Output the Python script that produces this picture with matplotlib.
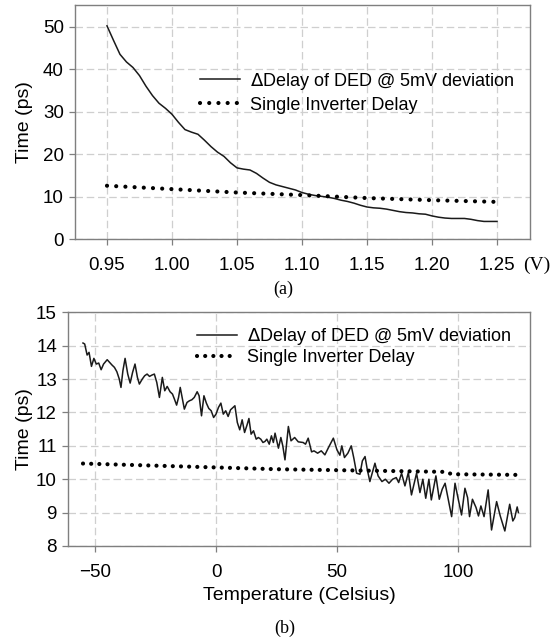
import numpy as np
import matplotlib
matplotlib.use("Agg")
import matplotlib.pyplot as plt

plt.rcParams['font.family'] = ['Liberation Sans', 'DejaVu Sans']

# ---------------- Data: panel (a) ----------------
volt = [0.950, 0.955, 0.960, 0.965, 0.970, 0.975, 0.980, 0.985, 0.990, 0.995,
        1.000, 1.005, 1.010, 1.015, 1.020, 1.025, 1.030, 1.035, 1.040, 1.045,
        1.050, 1.055, 1.060, 1.065, 1.070, 1.075, 1.080, 1.085, 1.090, 1.095,
        1.100, 1.105, 1.110, 1.115, 1.120, 1.125, 1.130, 1.135, 1.140, 1.145,
        1.150, 1.155, 1.160, 1.165, 1.170, 1.175, 1.180, 1.185, 1.190, 1.195,
        1.200, 1.205, 1.210, 1.215, 1.220, 1.225, 1.230, 1.235, 1.240, 1.245,
        1.250]
ded_volt = [50.2, 46.8, 43.5, 41.7, 40.4, 38.5, 36.0, 33.8, 32.0, 30.8,
            29.4, 27.5, 25.8, 25.2, 24.7, 23.3, 21.8, 20.5, 19.5, 18.0,
            16.8, 16.5, 16.3, 15.5, 14.4, 13.4, 12.8, 12.4, 12.0, 11.6,
            11.0, 10.6, 10.3, 10.1, 9.9, 9.6, 9.2, 8.9, 8.5, 8.0,
            7.6, 7.4, 7.3, 7.1, 6.8, 6.5, 6.3, 6.2, 6.0, 5.9,
            5.5, 5.2, 5.0, 4.9, 4.9, 4.9, 4.7, 4.4, 4.2, 4.2,
            4.2]
inv_volt_x = [0.95, 1.00, 1.05, 1.10, 1.15, 1.20, 1.25]
inv_volt = [12.6, 11.8, 11.0, 10.4, 9.7, 9.2, 8.8]

# ---------------- Data: panel (b) ----------------
temp = [-55, -54.3, -53.3, -52.5, -51.5, -50.5, -49.5, -48.5, -47.5, -46.5,
        -45, -44, -43, -42, -41, -40, -39.3, -38.5, -37.6, -36.5,
        -35.5, -34.5, -33.5, -32.5, -31.7, -30.5, -29.5, -28.5, -27.5, -26.5,
        -25.5, -24.5, -23.4, -22.2, -21.2, -20.2, -19, -18, -17.2, -16.3,
        -15.5, -14.8, -13.1, -12, -11, -10, -9, -7.8, -7, -6,
        -5, -4, -3, -2, -1, 0, 1, 2, 3, 4,
        5, 6, 7.8, 8.8, 9.8, 10.8, 11.8, 12.8, 13.6, 14.5,
        15.5, 16.6, 17.5, 18.5, 19.4, 20.2, 21, 22, 22.9, 23.7,
        24.4, 25.8, 26.8, 27.6, 28.5, 29.9, 31, 32.5, 34, 36,
        37, 38.1, 39.5, 40.5, 42, 43.5, 45, 46.5, 48.5, 50,
        51.2, 52, 53.1, 54.5, 55.9, 57, 58.1, 59.5, 60.5, 61.6,
        62.5, 63.6, 64.8, 65.7, 67, 68.6, 70, 71.5, 73, 74.5,
        75.5, 76.7, 78.1, 79.5, 80.8, 82.9, 84.3, 85.5, 86.7, 88,
        89, 90.9, 92.3, 93.5, 94.7, 96, 97.4, 98.8, 100, 101.5,
        102.9, 104, 104.8, 106, 107.5, 108.5, 109.5, 110.8, 112.5, 113.9,
        116, 117.5, 119.4, 121.4, 122.7, 123.5, 124.5, 125]
ded_temp = [14.08, 14.05, 13.72, 13.80, 13.38, 13.62, 13.45, 13.48, 13.28, 13.45,
            13.58, 13.50, 13.42, 13.35, 13.22, 13.00, 12.75, 13.25, 13.62, 13.15,
            12.88, 13.20, 13.45, 13.05, 12.85, 13.00, 13.10, 13.15, 13.08, 13.12,
            13.15, 12.90, 12.45, 13.05, 12.65, 12.78, 12.62, 12.55, 12.40, 12.22,
            12.45, 12.75, 12.10, 12.30, 12.35, 12.38, 12.45, 12.62, 12.50, 11.90,
            12.50, 12.28, 12.12, 12.05, 11.85, 11.95, 12.15, 12.28, 11.95, 12.05,
            11.88, 12.08, 12.20, 11.70, 11.48, 11.78, 11.40, 11.62, 11.82, 11.35,
            11.45, 11.20, 11.25, 11.20, 11.10, 11.13, 11.20, 11.05, 11.30, 11.10,
            11.38, 10.93, 11.25, 11.00, 10.58, 11.58, 11.15, 11.25, 11.12, 11.10,
            11.05, 11.23, 10.82, 10.85, 10.78, 10.85, 10.73, 10.95, 11.23, 10.88,
            10.72, 11.00, 10.65, 10.78, 11.00, 10.62, 10.18, 10.15, 10.55, 10.68,
            10.30, 9.93, 10.25, 10.48, 10.10, 9.93, 10.00, 9.88, 10.00, 10.05,
            9.90, 10.18, 9.80, 10.20, 9.53, 10.18, 9.60, 10.00, 9.43, 10.00,
            9.38, 10.10, 9.40, 9.70, 9.88, 9.40, 8.88, 9.88, 9.45, 8.93,
            9.73, 9.45, 8.88, 9.40, 9.15, 8.90, 9.20, 8.88, 9.68, 8.48,
            9.33, 8.90, 8.45, 9.25, 8.75, 8.85, 9.17, 9.00]
inv_temp_x = [-55, 25, 95, 97.5, 125]
inv_temp = [10.47, 10.30, 10.22, 10.15, 10.13]

volt_ticks = [0.95, 1.00, 1.05, 1.10, 1.15, 1.20, 1.25]
volt_ticklabels = ['0.95', '1.00', '1.05', '1.10', '1.15', '1.20', '1.25']
time_ticks_a = [0, 10, 20, 30, 40, 50]
temp_ticks = [-50, 0, 50, 100]
time_ticks_b = [8, 9, 10, 11, 12, 13, 14, 15]

label_ded = r'$\Delta$Delay of DED @ 5mV deviation'
label_inv = 'Single Inverter Delay'

W, H = 559, 637
fig = plt.figure(figsize=(W / 100, H / 100), dpi=100)
fig.patch.set_facecolor('white')

spine_col = '#7f7f7f'
grid_col = '#cfcfcf'
line_col = '#1a1a1a'


def style_axes(ax):
    for s in ax.spines.values():
        s.set_color(spine_col)
        s.set_linewidth(1.0)
    ax.grid(True, color=grid_col, linestyle=(0, (6, 3)), linewidth=0.9)
    ax.set_axisbelow(True)
    ax.tick_params(direction='out', length=4, width=0.9, color=spine_col,
                   labelsize=13.5, labelcolor='black')


# ---- panel (a)
ax1 = fig.add_axes([75 / W, 1 - 239.3 / H, (530 - 75) / W, (239.3 - 5) / H])
ax1.plot(volt, ded_volt, color=line_col, linewidth=1.1, label=label_ded)
ax1.plot(inv_volt_x, inv_volt, color='black', linewidth=3.0,
         linestyle=(0, (0.01, 2.2)), dash_capstyle='round', label=label_inv)
ax1.set_xlim(0.9254, 1.2754)
ax1.set_ylim(0, 55.1)
ax1.set_xticks(volt_ticks)
ax1.set_xticklabels(volt_ticklabels)
ax1.set_yticks(time_ticks_a)
style_axes(ax1)
ax1.tick_params(axis='x', pad=9)
ax1.tick_params(axis='y', pad=4)
ax1.set_ylabel('Time (ps)', fontsize=14, labelpad=7)
ax1.legend(loc='upper left', bbox_to_anchor=(0.275, 0.72), frameon=False,
           fontsize=13, handlelength=2.2, handletextpad=0.55,
           labelspacing=0.28, borderaxespad=0, borderpad=0)
fig.text(537 / W, 1 - 265 / H, '(V)', fontsize=14, ha='center', va='center',
         family=['Liberation Serif', 'DejaVu Serif'])
fig.text(283 / W, 1 - 289 / H, '(a)', fontsize=13, ha='center', va='center',
         family=['Liberation Serif', 'DejaVu Serif'])

# ---- panel (b)
ax2 = fig.add_axes([68 / W, 1 - 546 / H, (530 - 68) / W, (546 - 312.3) / H])
ax2.plot(temp, ded_temp, color=line_col, linewidth=1.1, label=label_ded)
ax2.plot(inv_temp_x, inv_temp, color='black', linewidth=3.0,
         linestyle=(0, (0.01, 1.95)), dash_capstyle='round', label=label_inv)
ax2.set_xlim(-61.2, 129.8)
ax2.set_ylim(8, 15)
ax2.set_xticks(temp_ticks)
ax2.set_yticks(time_ticks_b)
style_axes(ax2)
ax2.tick_params(axis='x', pad=9)
ax2.tick_params(axis='y', pad=4)
ax2.set_ylabel('Time (ps)', fontsize=14, labelpad=2)
ax2.set_xlabel('Temperature (Celsius)', fontsize=14, labelpad=4)
ax2.legend(loc='upper left', bbox_to_anchor=(0.279, 0.941), frameon=False,
           fontsize=13, handlelength=2.2, handletextpad=0.55,
           labelspacing=0.12, borderaxespad=0, borderpad=0)
fig.text(285 / W, 1 - 628 / H, '(b)', fontsize=13, ha='center', va='center',
         family=['Liberation Serif', 'DejaVu Serif'])

fig.savefig('out.png', dpi=100)
